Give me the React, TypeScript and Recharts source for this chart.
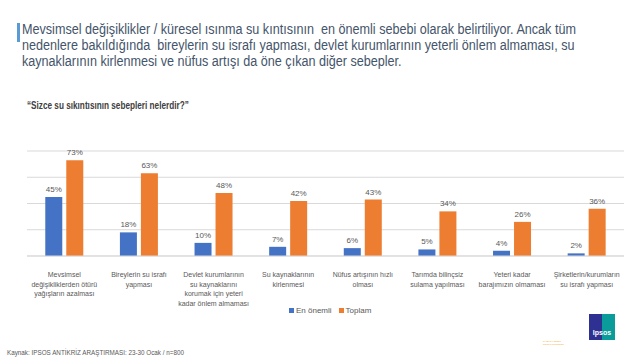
import React from "react";
import { BarChart, Bar, XAxis, YAxis, CartesianGrid, LabelList } from "recharts";

const categories = [
  "Mevsimsel\ndeğişikliklerden ötürü\nyağışların azalması",
  "Bireylerin su israfı\nyapması",
  "Devlet kurumlarının\nsu kaynaklarını\nkorumak için yeteri\nkadar önlem almaması",
  "Su kaynaklarının\nkirlenmesi",
  "Nüfus artışının hızlı\nolması",
  "Tarımda bilinçsiz\nsulama yapılması",
  "Yeteri kadar\nbarajımızın olmaması",
  "Şirketlerin/kurumların\nsu israfı yapması",
];
const enOnemli = [45, 18, 10, 7, 6, 5, 4, 2];
const toplam = [73, 63, 48, 42, 43, 34, 26, 36];
const seriesNames = ["En önemli", "Toplam"];
const seriesColors = ["#4472C4", "#ED7D31"];
const yTicks = [0, 10, 20, 30, 40, 50, 60, 70, 80];

const titleLines = [
  "Mevsimsel değişiklikler / küresel ısınma su kıntısının  en önemli sebebi olarak belirtiliyor. Ancak tüm",
  "nedenlere bakıldığında  bireylerin su israfı yapması, devlet kurumlarının yeterli önlem almaması, su",
  "kaynaklarının kirlenmesi ve nüfus artışı da öne çıkan diğer sebepler.",
];
const questionText = "“Sizce su sıkıntısının sebepleri nelerdir?”";
const sourceText = "Kaynak: IPSOS ANTİKRİZ ARAŞTIRMASI:  23-30 Ocak / n=800";

const data = categories.map((c, i) => ({ name: c, a: enOnemli[i], b: toplam[i] }));

const AxisTick = (props: any) => {
  const { x, y, payload } = props;
  const lines = String(payload.value).split("\n");
  return (
    <g transform={`translate(${x},${y})`}>
      <text textAnchor="middle" fill="#595959" fontSize={7} fontFamily="Liberation Sans, Arial, sans-serif">
        {lines.map((l: string, i: number) => (
          <tspan key={i} x={0} y={13 + i * 9.5}>
            {l}
          </tspan>
        ))}
      </text>
    </g>
  );
};

const fmt = (v: any) => `${v}%`;

export default function App() {
  return (
    <div
      style={{
        position: "absolute",
        left: 0,
        top: 0,
        width: 640,
        height: 360,
        background: "#fff",
        fontFamily: "Liberation Sans, Arial, sans-serif",
        overflow: "hidden",
      }}
    >
      <div style={{ position: "absolute", left: 17, top: 23, width: 3, height: 19, background: "#5B9BD5" }} />
      <div
        style={{
          position: "absolute",
          left: 22,
          top: 21,
          fontSize: 14,
          lineHeight: "16px",
          color: "#44546A",
          whiteSpace: "pre",
          transform: "scaleX(0.9)",
          transformOrigin: "left top",
        }}
      >
        {titleLines.map((l, i) => (
          <div key={i}>{l}</div>
        ))}
      </div>
      <div
        style={{
          position: "absolute",
          left: 27,
          top: 100,
          fontSize: 10,
          fontWeight: "bold",
          color: "#404040",
          whiteSpace: "pre",
          transform: "scaleX(0.82)",
          transformOrigin: "left top",
        }}
      >
        {questionText}
      </div>
      <div style={{ position: "absolute", left: 0, top: 0 }}>
        <BarChart
          width={640}
          height={360}
          data={data}
          margin={{ top: 151, right: 16, bottom: 0, left: 27 }}
          barCategoryGap="24.5%"
          barGap={4}
        >
          <CartesianGrid vertical={false} stroke="#D9D9D9" />
          <YAxis hide domain={[0, 80]} ticks={yTicks} />
          <XAxis
            dataKey="name"
            axisLine={{ stroke: "#D9D9D9" }}
            tickLine={false}
            tick={<AxisTick />}
            interval={0}
            height={104}
          />
          <Bar dataKey="a" name={seriesNames[0]} fill={seriesColors[0]} isAnimationActive={false}>
            <LabelList dataKey="a" position="top" offset={5} formatter={fmt} fill="#595959" fontSize={8} />
          </Bar>
          <Bar dataKey="b" name={seriesNames[1]} fill={seriesColors[1]} isAnimationActive={false}>
            <LabelList dataKey="b" position="top" offset={5} formatter={fmt} fill="#595959" fontSize={8} />
          </Bar>
        </BarChart>
      </div>
      <div
        style={{
          position: "absolute",
          left: 289,
          top: 306,
          display: "flex",
          alignItems: "center",
          fontSize: 8,
          color: "#595959",
        }}
      >
        {seriesNames.map((n, i) => (
          <div key={n} style={{ display: "flex", alignItems: "center", marginRight: 7 }}>
            <div style={{ width: 5, height: 5, background: seriesColors[i], marginRight: 2 }} />
            <span>{n}</span>
          </div>
        ))}
      </div>
      <div style={{ position: "absolute", left: 589, top: 314, width: 26, height: 26, display: "flex" }}>
        <div style={{ width: 13, height: 26, background: "#2E3192" }} />
        <div style={{ width: 13, height: 26, background: "#0A9C9A" }} />
        <div
          style={{
            position: "absolute",
            left: 0,
            top: 15,
            width: 26,
            textAlign: "center",
            color: "#fff",
            fontSize: 7,
            fontWeight: "bold",
          }}
        >
          Ipsos
        </div>
      </div>
      <div style={{ position: "absolute", left: 543, top: 340, fontSize: 2, lineHeight: "2.5px", color: "#F5A623" }}>
        GAME CHANGERS
        <br />
        Nobody's Unpredictable
      </div>
      <div style={{ position: "absolute", left: 7, top: 349, fontSize: 6.3, color: "#595959" }}>{sourceText}</div>
    </div>
  );
}
